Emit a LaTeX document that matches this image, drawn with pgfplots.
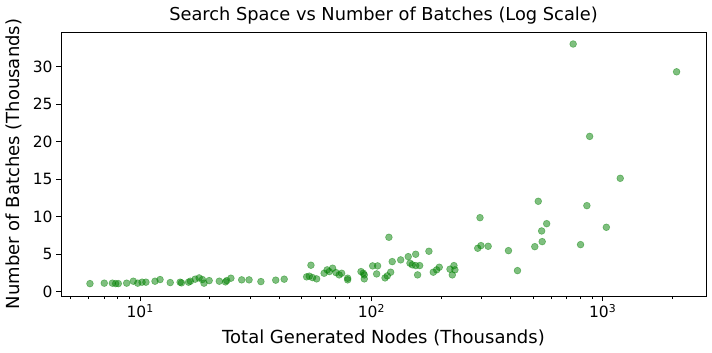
\documentclass[border=0pt]{standalone}
\usepackage{fontspec}
\setmainfont{DejaVu Sans}
\usepackage{pgfplots}
\pgfplotsset{compat=1.18}

\definecolor{mplgreen}{RGB}{0,128,0}
\newcommand{\tl}{\fontsize{15.5bp}{18bp}\selectfont}

\begin{document}
\begin{tikzpicture}
  \begin{axis}[
      scale only axis,
      width=645bp, height=264bp,
      xmode=log,
      xmin=4.55, xmax=2800,
      ymin=-0.55, ymax=34.6,
      xtick={10,100,1000},
      xticklabels={{\tl 10\textsuperscript{1}},{\tl 10\textsuperscript{2}},{\tl 10\textsuperscript{3}}},
      minor xtick={5,6,7,8,9,20,30,40,50,60,70,80,90,200,300,400,500,600,700,800,900,2000},
      ytick={0,5,10,15,20,25,30},
      yticklabels={{\tl 0},{\tl 5},{\tl 10},{\tl 15},{\tl 20},{\tl 25},{\tl 30}},
      tick align=outside,
      tick pos=left,
      major tick length=5bp,
      minor tick length=3bp,
      every tick/.style={black, line width=0.8bp},
      axis line style={black, line width=0.8bp},
      every axis title shift=0pt,
      title={Search Space vs Number of Batches (Log Scale)},
      title style={font=\fontsize{17.8bp}{20bp}\selectfont, at={(axis description cs:0.5,1.043)}, anchor=base},
      xlabel={Total Generated Nodes (Thousands)},
      xlabel style={font=\fontsize{18bp}{20bp}\selectfont, at={(axis description cs:0.5,-0.18)}, anchor=base},
      ylabel={Number of Batches (Thousands)},
      ylabel style={font=\fontsize{18bp}{20bp}\selectfont, at={(axis description cs:-0.065,0.5)}, rotate=0, anchor=base},
    ]
    \addplot[only marks, mark=*, mark size=3.4bp,
      mark options={fill=mplgreen, draw=mplgreen, fill opacity=0.5, draw opacity=0.45, line width=0.6bp}]
      coordinates {
        (6.07,1.10)(7.0,1.16)(7.59,1.16)(7.84,1.10)(8.05,1.10)(8.75,1.16)
        (9.35,1.42)(9.77,1.16)(10.2,1.29)(10.6,1.29)(11.6,1.42)(12.2,1.64)
        (13.5,1.24)(14.9,1.29)(15.1,1.20)(16.2,1.29)(16.5,1.42)(17.3,1.69)
        (18.0,1.86)(18.6,1.64)(18.9,1.16)(19.9,1.50)(22.0,1.42)(23.4,1.33)
        (23.7,1.50)(24.7,1.82)(27.5,1.60)(29.6,1.60)(33.3,1.37)(38.6,1.56)
        (42.0,1.69)
        (52.5,2.00)(53.9,2.09)(54.8,3.55)(55.7,1.90)(58.0,1.73)(62.5,2.48)
        (64.4,2.93)(65.8,2.70)(68.0,3.15)(70.3,2.57)(72.6,2.26)(74.4,2.48)
        (79.0,1.82)(79.0,1.60)(90.2,2.70)(92.3,2.48)(93.2,2.26)(93.2,1.73)
        (101.3,3.46)(106.4,3.46)(105.4,2.39)(114.6,1.86)(117.2,2.13)(121.2,2.62)
        (119.1,7.27)(123.1,4.03)(133.9,4.26)(144.4,4.69)(146.9,3.82)(150.3,3.60)
        (155.5,5.01)(155.5,3.50)(161.8,3.50)(158.5,2.26)(177.4,5.41)(185.3,2.62)
        (191.6,2.93)(196.7,3.28)(218.8,3.02)(227.6,3.50)(229.8,2.93)(223.9,2.26)
        (288.4,5.81)(297.9,6.16)(295,9.88)(320,6.07)
        (391.7,5.49)(428.5,2.83)(509,6.02)(527,12.06)(545,8.11)(548,6.69)
        (573,9.08)(746,33.0)(803,6.29)(855,11.48)(879,20.7)(1038,8.6)
        (1192,15.12)(2089,29.3)
      };
  \end{axis}
  \pgfresetboundingbox
  \path[use as bounding box] (current axis.south west) ++(-61bp,-57bp) rectangle ++(712bp,353bp);
\end{tikzpicture}
\end{document}
